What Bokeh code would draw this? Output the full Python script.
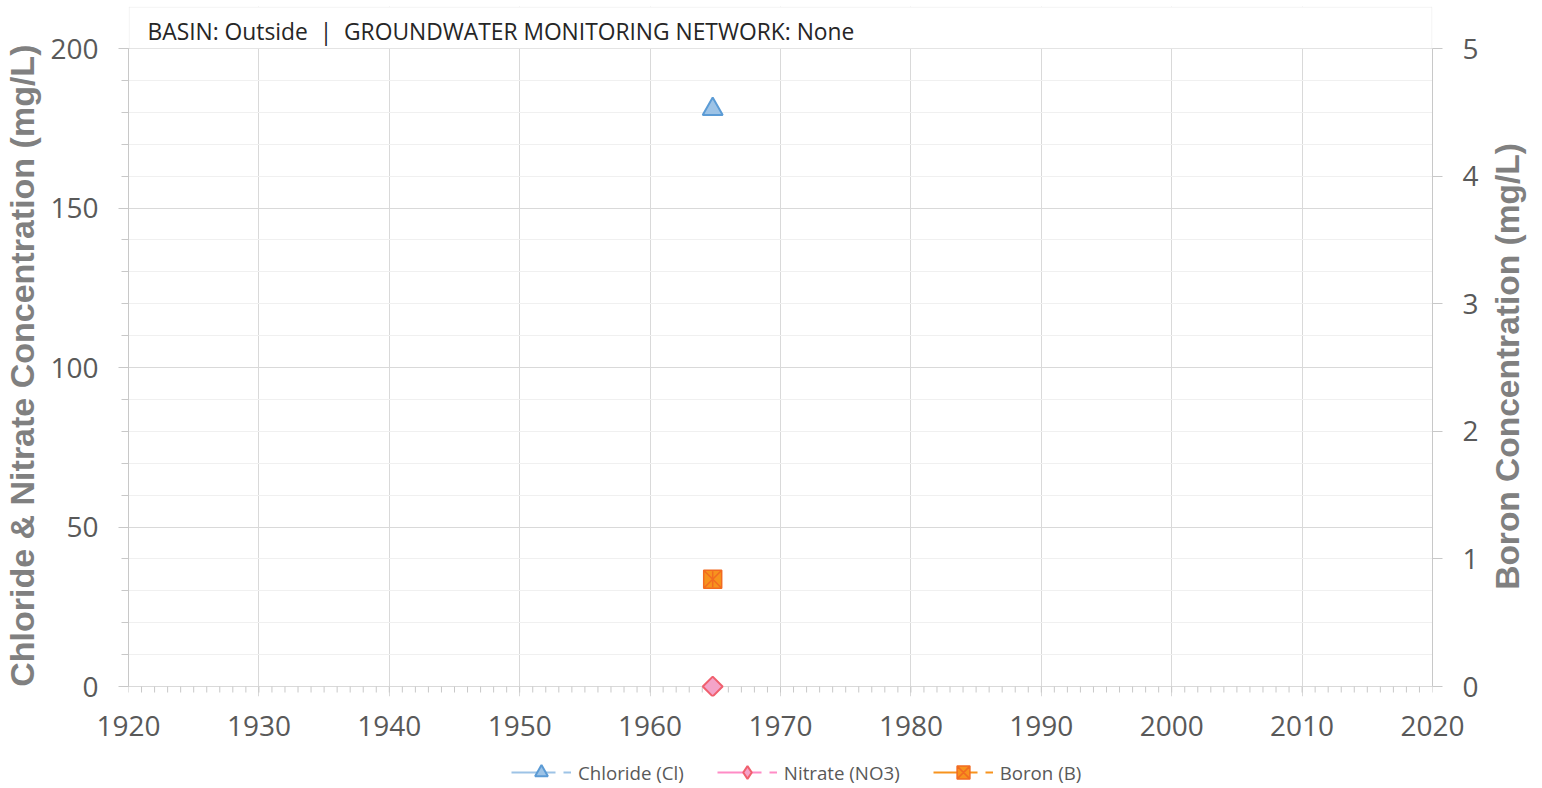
import numpy as np
from bokeh.plotting import figure
from bokeh.layouts import column, row
from bokeh.models import (Range1d, LinearAxis, FixedTicker, BoxAnnotation, Label,
                          Legend, LegendItem)
from bokeh.embed import file_html
from bokeh.resources import INLINE

# ---- data ----
sample_year = [1964.8]
chloride = [181]
nitrate = [0]
boron = [0.84]

x_ticks = [1920, 1930, 1940, 1950, 1960, 1970, 1980, 1990, 2000, 2010, 2020]
x_minor = list(range(1920, 2021))
left_ticks = [0, 50, 100, 150, 200]
left_minor = list(range(0, 201, 10))
right_ticks = [0, 1, 2, 3, 4, 5]
header = "BASIN: Outside\u00a0\u00a0|\u00a0\u00a0GROUNDWATER MONITORING NETWORK: None"
left_title = "Chloride & Nitrate Concentration (mg/L)"
right_title = "Boron Concentration (mg/L)"
series_names = ["Chloride (Cl)", "Nitrate (NO3)", "Boron (B)"]

TICK_FONT = "Open Sans"
TITLE_FONT = "Liberation Sans"
GRID = "#D9D9D9"
MINOR = "#F0F0F0"
AXC = "#C8C8C8"
CL_LINE, CL_FILL, CL_EDGE = "#9DC3E6", "#9DC3E6", "#5B9BD5"
NO_LINE, NO_FILL, NO_EDGE = "#FF8CC6", "#F4A3C8", "#F0606E"
B_LINE, B_FILL, B_EDGE = "#F7931E", "#F7931E", "#F26B21"

PX = 3.19              # pixels per left-axis unit
XPX = 13.04            # pixels per year
y_top = 680 / PX       # header band above 200
y_bot = -10 / PX       # small band under the zero line
scale = 40.0           # left units per boron unit
W = 1488
H = 754

p = figure(width=W, height=H, output_backend="svg", toolbar_location=None,
           x_range=Range1d(1920, 2020), y_range=Range1d(y_bot, y_top),
           min_border_left=120, min_border_right=56, min_border_top=6,
           min_border_bottom=H - 696, outline_line_color=None,
           background_fill_color="white", border_fill_color="white")
p.extra_y_ranges = {"boron": Range1d(y_bot / scale, y_top / scale)}

# x axis (labels only; ticks drawn by grid lines and segments)
xa = p.xaxis[0]
xa.ticker = FixedTicker(ticks=x_ticks)
xa.axis_line_color = None
xa.major_tick_line_color = None
xa.minor_tick_line_color = None
xa.major_tick_in = 0
xa.major_tick_out = 0
xa.major_label_text_font = TICK_FONT
xa.major_label_text_font_size = "28px"
xa.major_label_text_color = "#595959"
xa.major_label_standoff = 19

# left axis
ya = p.yaxis[0]
ya.ticker = FixedTicker(ticks=left_ticks, minor_ticks=left_minor)
ya.bounds = (0, 200)
ya.axis_line_color = AXC
ya.major_tick_line_color = AXC
ya.minor_tick_line_color = AXC
ya.major_tick_in = 0
ya.major_tick_out = 10
ya.minor_tick_in = 0
ya.minor_tick_out = 7
ya.major_label_text_font = TICK_FONT
ya.major_label_text_font_size = "28px"
ya.major_label_text_color = "#595959"
ya.major_label_standoff = 20
ya.axis_label = left_title + "\u00a0\u00a0\u00a0"
ya.axis_label_text_font = TITLE_FONT
ya.axis_label_text_font_style = "bold"
ya.axis_label_text_font_size = "34px"
ya.axis_label_text_color = "#808080"
ya.axis_label_standoff = 6

# right axis
ra = LinearAxis(y_range_name="boron", ticker=FixedTicker(ticks=right_ticks, minor_ticks=[]))
ra.bounds = (0, 5)
ra.axis_line_color = AXC
ra.major_tick_line_color = AXC
ra.major_tick_in = 0
ra.major_tick_out = 10
ra.minor_tick_line_color = None
ra.major_label_text_font = TICK_FONT
ra.major_label_text_font_size = "28px"
ra.major_label_text_color = "#595959"
ra.major_label_standoff = 20
p.add_layout(ra, "right")

# grids
p.xgrid.ticker = FixedTicker(ticks=x_ticks)
p.xgrid.grid_line_color = GRID
p.xgrid.minor_grid_line_color = None
p.ygrid.grid_line_color = GRID
p.ygrid.minor_grid_line_color = MINOR

# minor year ticks hanging below the zero line
p.segment(x0=x_minor, y0=[0] * len(x_minor), x1=x_minor, y1=[-6 / PX] * len(x_minor),
          line_color=AXC, line_width=1)

# header box covering the area above 200
hb = BoxAnnotation(bottom=200, top=y_top - 0.6 / PX,
                   left=1920 + 0.6 / XPX, right=2020 - 0.6 / XPX,
                   fill_color="white", fill_alpha=1.0,
                   line_color="#CFCFCF", line_width=1)
p.add_layout(hb)
p.add_layout(Label(x=1920, y=200, x_offset=19, y_offset=17, text=header,
                   text_font=TICK_FONT, text_font_size="22.8px", text_color="#262626",
                   text_baseline="middle"))

# series
p.scatter(sample_year, chloride, marker="triangle", size=20,
          fill_color=CL_FILL, line_color=CL_EDGE, line_width=2)
p.scatter(sample_year, nitrate, marker="square", angle=np.pi / 4, size=14,
          fill_color=NO_FILL, line_color=NO_EDGE, line_width=2)
p.scatter(sample_year, boron, y_range_name="boron", marker="square_x", size=18,
          fill_color=B_FILL, line_color=B_EDGE, line_width=1.5)
p.scatter(sample_year, boron, y_range_name="boron", marker="dash", angle=np.pi / 2,
          size=16, line_color=B_EDGE, line_width=1.5)

# ---- legend strip (separate small figure; its data lie outside its ranges) ----
DASH = "44 8 10 20"
LH = 788 - H
lg = figure(width=W, height=LH, output_backend="svg", toolbar_location=None,
            x_range=Range1d(0, 1), y_range=Range1d(0, 1),
            min_border=0, outline_line_color=None, background_fill_color="white",
            border_fill_color="white")
lg.axis.visible = False
lg.grid.visible = False
r1 = lg.line(sample_year, chloride, line_color=CL_LINE, line_width=2, line_dash=DASH)
r1m = lg.scatter(sample_year, chloride, marker="triangle",
                 fill_color=CL_FILL, line_color=CL_EDGE, line_width=2)
r2 = lg.line(sample_year, nitrate, line_color=NO_LINE, line_width=2, line_dash=DASH)
r2m = lg.scatter(sample_year, nitrate, marker="diamond",
                 fill_color=NO_FILL, line_color=NO_EDGE, line_width=2)
r3 = lg.line(sample_year, boron, line_color=B_LINE, line_width=2, line_dash=DASH)
r3m = lg.scatter(sample_year, boron, marker="square_x",
                 fill_color=B_FILL, line_color=B_EDGE, line_width=1.5)

legend = Legend(items=[
    LegendItem(label=series_names[0], renderers=[r1, r1m]),
    LegendItem(label=series_names[1], renderers=[r2, r2m]),
    LegendItem(label=series_names[2], renderers=[r3, r3m]),
], orientation="horizontal", location=(383, 0),
    glyph_width=60, glyph_height=32, label_height=32, label_standoff=7,
    spacing=33, padding=0, margin=0, border_line_color=None,
    background_fill_alpha=0, label_text_font=TICK_FONT,
    label_text_font_size="18.7px", label_text_color="#595959")
lg.add_layout(legend, "center")

# ---- right-hand axis title strip (reads bottom to top) ----
RW = 44
rf = figure(width=RW, height=788, output_backend="svg", toolbar_location=None,
            x_range=Range1d(0, RW), y_range=Range1d(0, 788),
            min_border=0, outline_line_color=None, background_fill_color="white",
            border_fill_color="white")
rf.axis.visible = False
rf.grid.visible = False
rf.add_layout(Label(x=19, y=788 - 366, angle=np.pi / 2, text=right_title,
                    text_font=TITLE_FONT, text_font_style="bold",
                    text_font_size="33.5px", text_color="#808080",
                    text_align="center", text_baseline="middle"))

layout = row(column(p, lg, spacing=0), rf, spacing=0)
open("out.html", "w").write(file_html(layout, INLINE))
